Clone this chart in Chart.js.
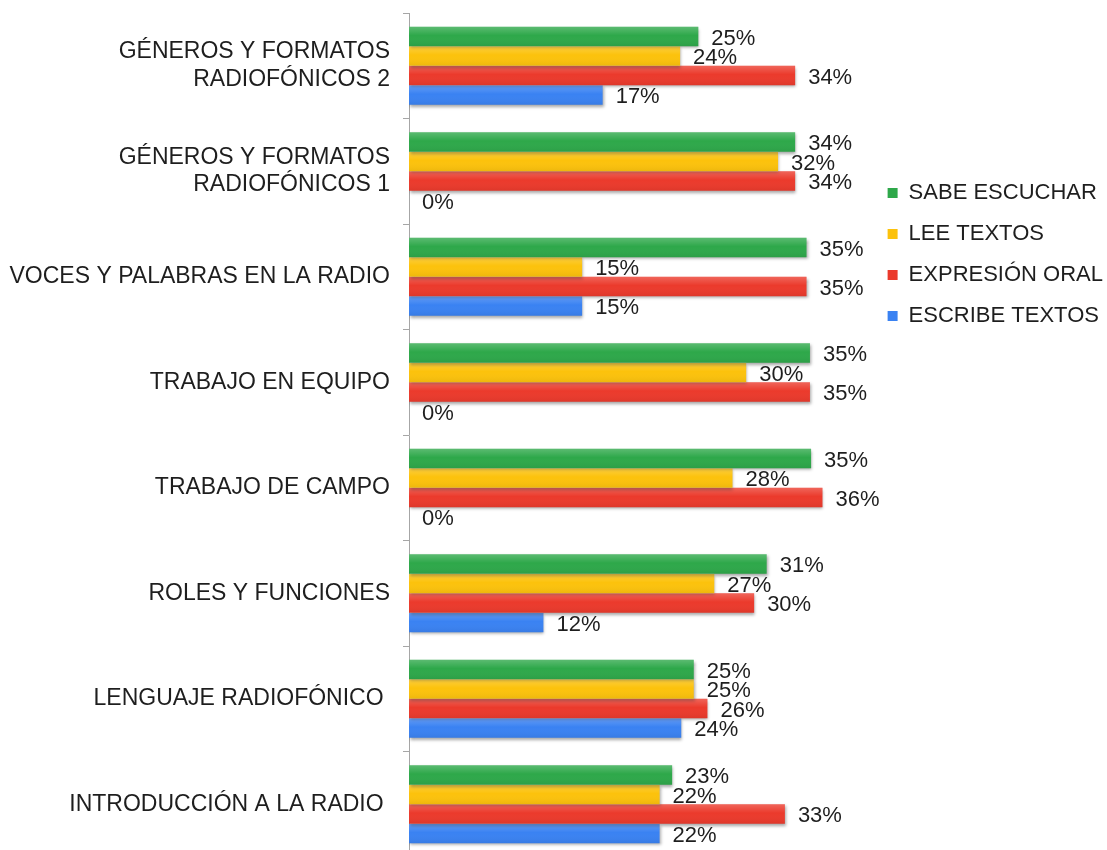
<!DOCTYPE html>
<html>
<head>
<meta charset="utf-8">
<script src="https://cdn.jsdelivr.net/npm/chart.js@4.4.0/dist/chart.umd.min.js"></script>
<style>
  html, body { margin: 0; padding: 0; overflow: hidden; background: #fff; }
</style>
</head>
<body>
<canvas id="graph" width="1140" height="870"></canvas>
<script>
const categories = [
  ["GÉNEROS Y FORMATOS", "RADIOFÓNICOS 2"],
  ["GÉNEROS Y FORMATOS", "RADIOFÓNICOS 1"],
  "VOCES Y PALABRAS EN LA RADIO",
  "TRABAJO EN EQUIPO",
  "TRABAJO DE CAMPO",
  "ROLES Y FUNCIONES",
  "LENGUAJE RADIOFÓNICO ",
  "INTRODUCCIÓN A LA RADIO "
];

const sabeEscuchar = [25.4, 33.9, 34.9, 35.2, 35.3, 31.4, 25.0, 23.1];
const leeTextos = [23.8, 32.4, 15.2, 29.6, 28.4, 26.8, 25.0, 22.0];
const expresionOral = [33.9, 33.9, 34.9, 35.2, 36.3, 30.3, 26.2, 33.0];
const escribeTextos = [17.0, 0, 15.2, 0, 0, 11.8, 23.9, 22.0];

const seriesNames = ["SABE ESCUCHAR", "LEE TEXTOS", "EXPRESIÓN ORAL", "ESCRIBE TEXTOS"];
const seriesColors = ["#2ea84a", "#fcc20c", "#eb3a2c", "#3a82f2"];

const FONT = "'Liberation Sans', Arial, sans-serif";

// sombra y degradado de las barras + etiquetas
const barShading = {
  id: 'barShading',
  beforeDatasetsDraw(chart) {
    const ctx = chart.ctx;
    ctx.save();
    ctx.shadowColor = 'rgba(0,0,0,0.35)';
    ctx.shadowBlur = 3;
    ctx.shadowOffsetX = 1;
    ctx.shadowOffsetY = 2;
  },
  afterDatasetsDraw(chart) {
    const ctx = chart.ctx;
    ctx.restore();
    chart.data.datasets.forEach((ds, i) => {
      chart.getDatasetMeta(i).data.forEach(bar => {
        const w = bar.x - bar.base;
        if (w <= 0) return;
        const top = bar.y - bar.height / 2;
        const g = ctx.createLinearGradient(0, top, 0, top + bar.height);
        g.addColorStop(0, 'rgba(255,255,255,0.22)');
        g.addColorStop(0.45, 'rgba(255,255,255,0)');
        g.addColorStop(1, 'rgba(0,0,0,0.06)');
        ctx.fillStyle = g;
        ctx.fillRect(bar.base, top, w, bar.height);
      });
    });
    ctx.save();
    ctx.font = '22px ' + FONT;
    ctx.fillStyle = '#1e1e1e';
    ctx.textBaseline = 'middle';
    ctx.textAlign = 'left';
    chart.data.datasets.forEach((ds, i) => {
      chart.getDatasetMeta(i).data.forEach((bar, j) => {
        ctx.fillText(Math.round(ds.data[j]) + '%', bar.x + 13, bar.y + 2);
      });
    });
    ctx.restore();
  }
};

const dataGraph = {
  labels: categories,
  datasets: [
    { label: seriesNames[0], data: sabeEscuchar, backgroundColor: seriesColors[0] },
    { label: seriesNames[1], data: leeTextos, backgroundColor: seriesColors[1] },
    { label: seriesNames[2], data: expresionOral, backgroundColor: seriesColors[2] },
    { label: seriesNames[3], data: escribeTextos, backgroundColor: seriesColors[3] }
  ]
};

const configGraph = {
  type: 'bar',
  data: dataGraph,
  plugins: [barShading],
  options: {
    indexAxis: 'y',
    responsive: false,
    animation: false,
    categoryPercentage: 0.74,
    barPercentage: 1,
    layout: { padding: { top: 13, bottom: 13, left: 0, right: 27 } },
    plugins: {
      tooltip: { enabled: false },
      legend: {
        position: 'right',
        align: 'start',
        title: { display: true, text: '', font: { size: 10, lineHeight: 1 }, padding: { top: 0, bottom: 140 } },
        labels: {
          boxWidth: 10,
          boxHeight: 10,
          padding: 19,
          color: '#1e1e1e',
          font: { family: FONT, size: 22 }
        }
      }
    },
    scales: {
      x: {
        display: false,
        min: 0,
        max: 40.35
      },
      y: {
        afterFit: s => { s.width = 409; s.paddingTop = 0; s.paddingBottom = 0; },
        border: { display: true, color: '#a6a6a6', width: 1 },
        grid: { drawOnChartArea: false, offset: true, tickLength: 6, color: '#a6a6a6' },
        ticks: {
          padding: 13,
          color: '#1e1e1e',
          font: { family: FONT, size: 23, lineHeight: 1.2 }
        }
      }
    }
  }
};

let graphVisible = new Chart(document.getElementById("graph"), configGraph);
</script>
</body>
</html>
